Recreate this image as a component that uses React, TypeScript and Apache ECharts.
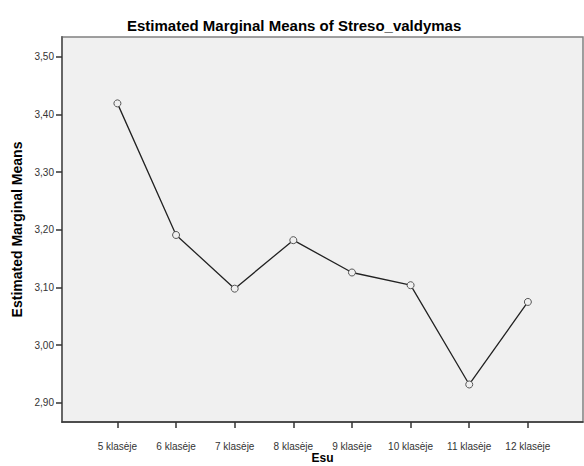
import React, { useEffect, useRef } from 'react';
import * as echarts from 'echarts';

const categories = ['5 klasėje', '6 klasėje', '7 klasėje', '8 klasėje', '9 klasėje', '10 klasėje', '11 klasėje', '12 klasėje'];
const means = [3.419, 3.191, 3.098, 3.182, 3.126, 3.104, 2.932, 3.075];
const yTicks = [2.9, 3.0, 3.1, 3.2, 3.3, 3.4, 3.5];

const FONT = "'Liberation Sans', Arial, sans-serif";

export default function App() {
  const ref = useRef<HTMLDivElement>(null);
  useEffect(() => {
    if (!ref.current) return;
    const chart = echarts.init(ref.current, undefined, { renderer: 'svg' });
    const catIdx = categories.map((_, i) => i);
    chart.setOption({
      animation: false,
      backgroundColor: '#ffffff',
      textStyle: { fontFamily: FONT },
      title: {
        text: 'Estimated Marginal Means of Streso_valdymas',
        left: 127,
        top: 18,
        padding: 0,
        textStyle: { fontFamily: FONT, fontSize: 15, fontWeight: 'bold', color: '#000' },
      },
      grid: {
        left: 62,
        right: 1,
        top: 37,
        bottom: 44,
        containLabel: false,
        outerBoundsMode: 'none',
        show: true,
        backgroundColor: '#f0f0f0',
        borderColor: '#808080',
        borderWidth: 1.5,
      },
      xAxis: {
        type: 'value',
        min: -0.945,
        max: 7.94,
        name: 'Esu',
        nameLocation: 'middle',
        nameGap: 30,
        nameMoveOverlap: false,
        nameTextStyle: { fontFamily: FONT, fontSize: 12, fontWeight: 'bold', color: '#000' },
        splitLine: { show: false },
        axisLine: { show: true, onZero: false, lineStyle: { color: '#333', width: 1.5 } },
        axisTick: { show: true, length: 6, customValues: catIdx, lineStyle: { color: '#333', width: 1.5 } },
        axisLabel: {
          customValues: catIdx,
          formatter: (v: number) => categories[Math.round(v)] ?? '',
          margin: 19,
          fontFamily: FONT,
          fontSize: 10,
          color: '#333',
        },
      },
      yAxis: {
        type: 'value',
        min: 2.867,
        max: 3.534,
        name: 'Estimated Marginal Means',
        nameLocation: 'middle',
        nameGap: 38,
        nameMoveOverlap: false,
        nameTextStyle: { fontFamily: FONT, fontSize: 14, fontWeight: 'bold', color: '#000' },
        splitLine: { show: false },
        axisLine: { show: true, onZero: false, lineStyle: { color: '#666', width: 2 } },
        axisTick: { show: true, length: 6, customValues: yTicks, lineStyle: { color: '#333', width: 1.5 } },
        axisLabel: {
          customValues: yTicks,
          formatter: (v: number) => v.toFixed(2).replace('.', ','),
          margin: 8,
          fontFamily: FONT,
          fontSize: 10,
          color: '#333',
        },
      },
      series: [
        {
          type: 'line',
          data: means.map((v, i) => [i, v]),
          symbol: 'circle',
          symbolSize: 7,
          showAllSymbol: true,
          itemStyle: { color: '#f0f0f0', borderColor: '#555', borderWidth: 1 },
          lineStyle: { color: '#222', width: 1.3 },
          emphasis: { disabled: true },
        },
      ],
    });
    return () => chart.dispose();
  }, []);
  return <div ref={ref} style={{ position: 'fixed', left: 0, top: 0, width: 584, height: 466 }} />;
}
